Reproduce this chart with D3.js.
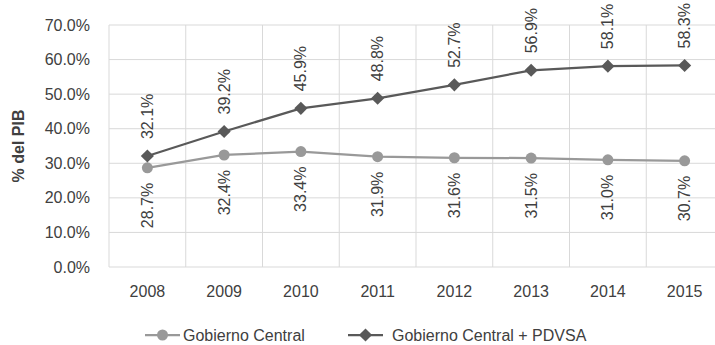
<!DOCTYPE html>
<html>
<head>
<meta charset="utf-8">
<script src="https://cdn.jsdelivr.net/npm/d3@7"></script>
<style>
  body { margin: 0; background: #fff; }
  text { font-family: "Liberation Sans", Arial, sans-serif; fill: #404040; }
</style>
</head>
<body>
<div id="chart"></div>
<script>
// chart data
const years = ['2008', '2009', '2010', '2011', '2012', '2013', '2014', '2015'];
const gobiernoCentral = [28.7, 32.4, 33.4, 31.9, 31.6, 31.5, 31.0, 30.7];
const gcMasPdvsa = [32.1, 39.2, 45.9, 48.8, 52.7, 56.9, 58.1, 58.3];
const yTicks = [0, 10, 20, 30, 40, 50, 60, 70];

const width = 715, height = 345;
const margin = { top: 25, right: -8, bottom: 78, left: 109 };
const w = width - margin.left - margin.right;
const h = height - margin.top - margin.bottom;
const fontSize = '16px';

const svg = d3.select('#chart').append('svg')
  .attr('width', width)
  .attr('height', height);

const g = svg.append('g')
  .attr('transform', `translate(${margin.left},${margin.top})`);

const x = d3.scaleBand().domain(years).range([0, w]);
const y = d3.scaleLinear().domain([0, 70]).range([h, 0]);
const cx = d => x(d) + x.bandwidth() / 2;

// horizontal gridlines
g.selectAll('.hgrid')
  .data(yTicks)
  .enter().append('line')
  .attr('x1', 0).attr('x2', w)
  .attr('y1', d => y(d)).attr('y2', d => y(d))
  .attr('stroke', '#d9d9d9').attr('stroke-width', 1);

// vertical gridlines (band edges)
g.selectAll('.vgrid')
  .data(years.concat(['end']))
  .enter().append('line')
  .attr('x1', (d, i) => i * x.bandwidth()).attr('x2', (d, i) => i * x.bandwidth())
  .attr('y1', 0).attr('y2', h)
  .attr('stroke', '#d9d9d9').attr('stroke-width', 1);

// y axis labels
const yAxis = g.append('g')
  .call(d3.axisLeft(y).tickValues(yTicks).tickSize(0).tickPadding(19)
    .tickFormat(d => d.toFixed(1) + '%'));
yAxis.select('.domain').remove();
yAxis.selectAll('text')
  .style('font-family', '"Liberation Sans", Arial, sans-serif')
  .style('font-size', fontSize).attr('fill', '#404040');

// x axis labels
const xAxis = g.append('g')
  .attr('transform', `translate(0,${h})`)
  .call(d3.axisBottom(x).tickSize(0).tickPadding(19));
xAxis.select('.domain').remove();
xAxis.selectAll('text')
  .style('font-family', '"Liberation Sans", Arial, sans-serif')
  .style('font-size', fontSize).attr('fill', '#404040');

// y axis title
svg.append('text')
  .attr('transform', 'translate(24,146) rotate(-90)')
  .attr('text-anchor', 'middle')
  .style('font-size', fontSize)
  .style('font-weight', 'bold')
  .attr('fill', '#000')
  .text('% del PIB');

const line = d3.line()
  .x((d, i) => cx(years[i]))
  .y(d => y(d));

const lightColor = '#999999';
const darkColor = '#595959';

// Gobierno Central
g.append('path')
  .datum(gobiernoCentral)
  .attr('d', line)
  .attr('fill', 'none')
  .attr('stroke', lightColor)
  .attr('stroke-width', 2.25);

g.selectAll('.gc-dot')
  .data(gobiernoCentral)
  .enter().append('circle')
  .attr('cx', (d, i) => cx(years[i]))
  .attr('cy', d => y(d))
  .attr('r', 5.5)
  .attr('fill', lightColor);

// Gobierno Central + PDVSA
g.append('path')
  .datum(gcMasPdvsa)
  .attr('d', line)
  .attr('fill', 'none')
  .attr('stroke', darkColor)
  .attr('stroke-width', 2.25);

const diamond = d3.symbol().type(d3.symbolDiamond2).size(110);
g.selectAll('.pd-dot')
  .data(gcMasPdvsa)
  .enter().append('path')
  .attr('d', diamond)
  .attr('transform', (d, i) => `translate(${cx(years[i])},${y(d)})`)
  .attr('fill', darkColor);

// data labels (rotated)
g.selectAll('.pd-label')
  .data(gcMasPdvsa)
  .enter().append('text')
  .attr('transform', (d, i) => `translate(${cx(years[i])},${y(d) - 17}) rotate(-90)`)
  .attr('dy', '0.35em')
  .attr('text-anchor', 'start')
  .style('font-size', fontSize)
  .text(d => d.toFixed(1) + '%');

g.selectAll('.gc-label')
  .data(gobiernoCentral)
  .enter().append('text')
  .attr('transform', (d, i) => `translate(${cx(years[i])},${y(d) + 15}) rotate(-90)`)
  .attr('dy', '0.35em')
  .attr('text-anchor', 'end')
  .style('font-size', fontSize)
  .text(d => d.toFixed(1) + '%');

// legend
const legend = svg.append('g').attr('transform', 'translate(0,335)');

legend.append('line')
  .attr('x1', 145).attr('x2', 180).attr('y1', 0).attr('y2', 0)
  .attr('stroke', lightColor).attr('stroke-width', 2.25);
legend.append('circle')
  .attr('cx', 162.5).attr('cy', 0).attr('r', 5.5).attr('fill', lightColor);
legend.append('text')
  .attr('x', 183).attr('dy', '0.35em')
  .style('font-size', fontSize)
  .text('Gobierno Central');

legend.append('line')
  .attr('x1', 348).attr('x2', 383).attr('y1', 0).attr('y2', 0)
  .attr('stroke', darkColor).attr('stroke-width', 2.25);
legend.append('path')
  .attr('d', diamond)
  .attr('transform', 'translate(365.5,0)')
  .attr('fill', darkColor);
legend.append('text')
  .attr('x', 392).attr('dy', '0.35em')
  .style('font-size', fontSize)
  .text('Gobierno Central + PDVSA');
</script>
</body>
</html>
